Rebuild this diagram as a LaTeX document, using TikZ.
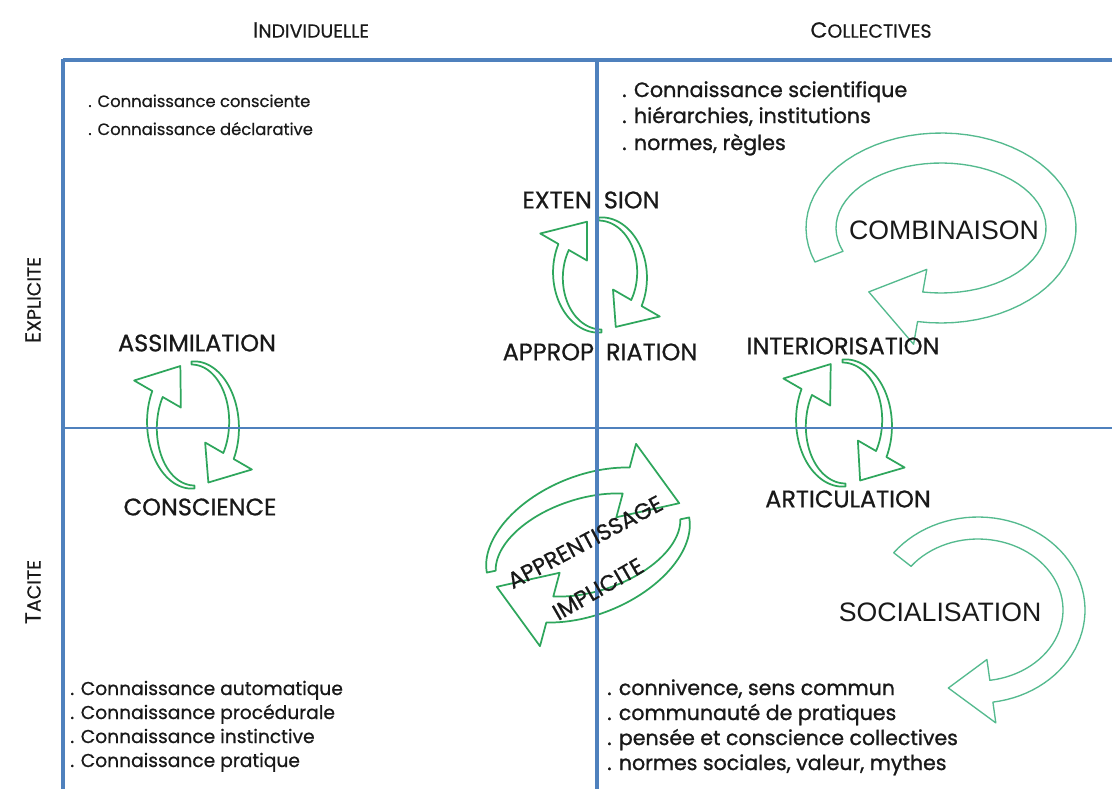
\documentclass[tikz,border=0pt]{standalone}
\usepackage{fontspec}
\setmainfont{Poppins}
\newfontfamily\fmed[FakeBold=0.7]{Poppins}
\newfontfamily\fsemi[FakeBold=1.1]{Poppins}
\newfontfamily\freg[FakeBold=0.4]{Poppins}
\newfontfamily\arialf{Liberation Sans}
\definecolor{gdark}{RGB}{46,166,92}
\definecolor{glight}{RGB}{84,186,142}
\definecolor{gridblue}{RGB}{79,129,189}
\definecolor{txt}{RGB}{25,25,25}
\newcommand\setarc[5]{\def\arcCx{#1}\def\arcCy{#2}\def\arcRx{#3}\def\arcRy{#4}\def\arcRot{#5}}
\newcommand\arcarrow[7]{%
  \def\arcA{#2}\def\arcB{#3}\def\arcC{#4}\def\arcWt{#5}\def\arcWh{#6}\def\arcH{#7}%
  \draw[#1] plot[domain=\arcA:\arcB, samples=60] ({arcX(\x,hw(\x))},{arcY(\x,hw(\x))})
    -- ({arcX(\arcB,\arcH)},{arcY(\arcB,\arcH)})
    -- ({arcX(\arcC,0)},{arcY(\arcC,0)})
    -- ({arcX(\arcB,-\arcH)},{arcY(\arcB,-\arcH)})
    -- plot[domain=\arcB:\arcA, samples=60] ({arcX(\x,-hw(\x))},{arcY(\x,-hw(\x))}) -- cycle;}
\tikzset{
  declare function={
    arcX(\aT,\oD)=\arcCx+(\arcRx+\oD)*cos(\aT)*cos(\arcRot)-(\arcRy+\oD)*sin(\aT)*sin(\arcRot);
    arcY(\aT,\oD)=\arcCy-((\arcRx+\oD)*cos(\aT)*sin(\arcRot)+(\arcRy+\oD)*sin(\aT)*cos(\arcRot));
    hw(\aT)=0.5*(\arcWt+(\arcWh-\arcWt)*(\arcA-\aT)/(\arcA-\arcB));
  },
  refresh/.style={draw=gdark, line width=1.3pt, line join=round},
  bigloop/.style={draw=glight, line width=1pt, line join=round},
  gridline/.style={draw=gridblue, line width=3pt},
  gridthin/.style={draw=gridblue, line width=2.2pt},
  lbl/.style={inner sep=0pt, text=txt, font=\fmed\fontsize{18}{19}\selectfont},
  big/.style={inner sep=0pt, text=txt, font=\arialf\fontsize{20}{22}\selectfont},
  itemTL/.style={inner sep=0pt, anchor=base west, text=txt, font=\freg\fontsize{12.3}{13}\selectfont},
  itemTR/.style={inner sep=0pt, anchor=base west, text=txt, font=\fsemi\fontsize{15.5}{16}\selectfont},
  itemBL/.style={inner sep=0pt, anchor=base west, text=txt, font=\fmed\fontsize{14}{15}\selectfont},
  itemBR/.style={inner sep=0pt, anchor=base west, text=txt, font=\fsemi\fontsize{15.4}{16}\selectfont},
  head/.style={inner sep=0pt, text=txt, font=\freg},
}
\newcommand\capbig[1]{{\fontsize{16.5}{17}\selectfont #1}}
\newcommand\capsmall[1]{{\fontsize{14.2}{15}\selectfont #1}}
\begin{document}
\begin{tikzpicture}[x=0.75pt,y=-0.75pt]
\useasboundingbox (0,0) rectangle (1112,789);
\fill[white] (0,0) rectangle (1112,789);
% refresh pairs
\setarc{193}{425}{41}{62}{0}
\arcarrow{refresh}{272}{150}{108}{3}{12}{27}
\arcarrow{refresh}{92}{-30}{-68}{3}{12}{27}
\setarc{600}{275}{42}{56}{0}
\arcarrow{refresh}{272}{150}{108}{3}{12}{27}
\arcarrow{refresh}{92}{-30}{-68}{3}{12}{27}
\setarc{844}{423}{43}{62}{0}
\arcarrow{refresh}{272}{150}{108}{3}{12}{27}
\arcarrow{refresh}{92}{-30}{-68}{3}{12}{27}
% big central refresh
\setarc{588}{545}{101}{58}{20}
\arcarrow{refresh}{172}{55}{8}{9}{27}{38}
\arcarrow{refresh}{352}{235}{188}{9}{27}{38}
% combinaison loop
\setarc{941}{228}{120}{80}{0}
\arcarrow{bigloop}{201}{-100}{-127}{30}{30}{38}
% socialisation loop
\setarc{978}{610}{96}{82}{0}
\arcarrow{bigloop}{142}{-82}{-108}{22}{22}{32}
% grid
\draw[gridline] (63,60) -- (1112,60);
\draw[gridline] (63,58.5) -- (63,789);
\draw[gridline] (597,58.5) -- (597,789);
\draw[gridthin] (63,428) -- (1112,428);
% headers
\node[head] (hind) at (311,30) {\capbig{I}\capsmall{NDIVIDUELLE}};
\node[head] (hcol) at (871,30) {\capbig{C}\capsmall{OLLECTIVES}};
\node[head, rotate=90] (hexp) at (33,300) {\capbig{E}\capsmall{XPLICITE}};
\node[head, rotate=90] (htac) at (33,592) {\capbig{T}\capsmall{ACITE}};
% lists
\node[itemTL] (tl1) at (88,107) {. Connaissance consciente};
\node[itemTL] (tl2) at (88,135) {. Connaissance déclarative};
\node[itemTR] (tr1) at (622,97) {. Connaissance scientifique};
\node[itemTR] (tr2) at (622,123) {. hiérarchies, institutions};
\node[itemTR] (tr3) at (622,150) {. normes, règles};
\node[itemBL] (bl1) at (70,695) {. Connaissance automatique};
\node[itemBL] (bl2) at (70,719) {. Connaissance procédurale};
\node[itemBL] (bl3) at (70,743) {. Connaissance instinctive};
\node[itemBL] (bl4) at (70,767) {. Connaissance pratique};
\node[itemBR] (br1) at (607,695) {. connivence, sens commun};
\node[itemBR] (br2) at (607,720) {. communauté de pratiques};
\node[itemBR] (br3) at (607,745) {. pensée et conscience collectives};
\node[itemBR] (br4) at (607,770) {. normes sociales, valeur, mythes};
% labels
\node[lbl] (ext) at (591,200) {EXTEN\hspace{9pt}SION};
\node[lbl] (app) at (600,352) {APPROP\hspace{9pt}RIATION};
\node[lbl] (ass) at (197,343) {ASSIMILATION};
\node[lbl] (con) at (200,507) {CONSCIENCE};
\node[lbl] (int) at (843,346) {INTERIORISATION};
\node[lbl] (art) at (848,499) {ARTICULATION};
\node[big] (comb) at (944,230) {COMBINAISON};
\node[big] (soc) at (940,612) {SOCIALISATION};
\node[lbl, rotate=28, font=\fmed\fontsize{17}{18}\selectfont] (appr) at (585,542) {APPRENTISSAGE};
\node[lbl, rotate=30, font=\fmed\fontsize{17}{18}\selectfont] (impl) at (598,589) {IMPLICITE};
\end{tikzpicture}
\end{document}
